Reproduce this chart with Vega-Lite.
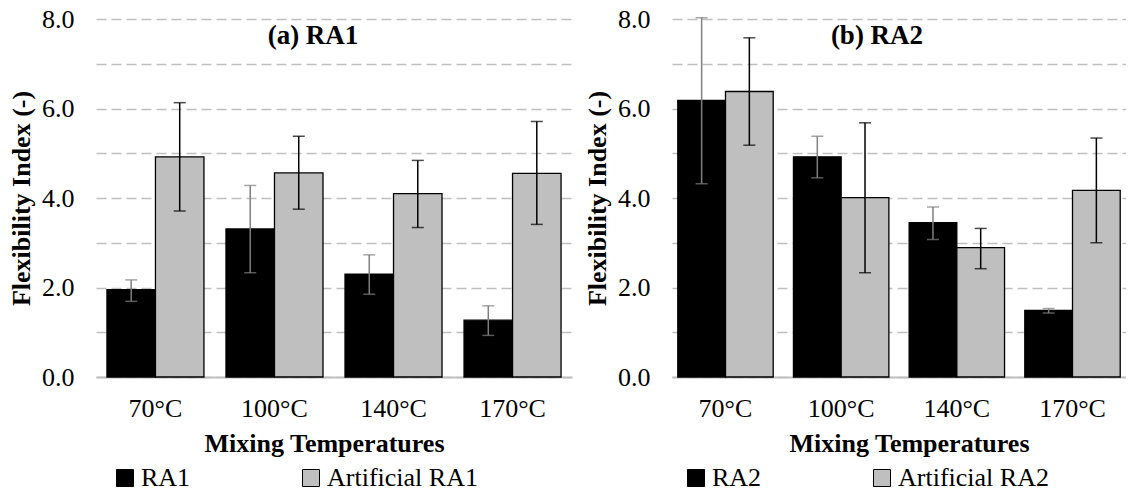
{
  "$schema": "https://vega.github.io/schema/vega-lite/v6.json",
  "background": "white",
  "padding": {"left": 8, "top": 6, "right": 0, "bottom": 0},
  "datasets": {
    "fi": [
      {"panel": "a", "temp": "70°C", "series": "RA1", "value": 1.95, "lo": 1.69, "hi": 2.17},
      {"panel": "a", "temp": "70°C", "series": "Artificial RA1", "value": 4.92, "lo": 3.71, "hi": 6.13},
      {"panel": "a", "temp": "100°C", "series": "RA1", "value": 3.31, "lo": 2.33, "hi": 4.28},
      {"panel": "a", "temp": "100°C", "series": "Artificial RA1", "value": 4.56, "lo": 3.75, "hi": 5.38},
      {"panel": "a", "temp": "140°C", "series": "RA1", "value": 2.30, "lo": 1.85, "hi": 2.73},
      {"panel": "a", "temp": "140°C", "series": "Artificial RA1", "value": 4.10, "lo": 3.34, "hi": 4.84},
      {"panel": "a", "temp": "170°C", "series": "RA1", "value": 1.27, "lo": 0.93, "hi": 1.59},
      {"panel": "a", "temp": "170°C", "series": "Artificial RA1", "value": 4.55, "lo": 3.41, "hi": 5.71},
      {"panel": "b", "temp": "70°C", "series": "RA2", "value": 6.18, "lo": 4.32, "hi": 8.03},
      {"panel": "b", "temp": "70°C", "series": "Artificial RA2", "value": 6.38, "lo": 5.18, "hi": 7.58},
      {"panel": "b", "temp": "100°C", "series": "RA2", "value": 4.92, "lo": 4.45, "hi": 5.38},
      {"panel": "b", "temp": "100°C", "series": "Artificial RA2", "value": 4.01, "lo": 2.33, "hi": 5.68},
      {"panel": "b", "temp": "140°C", "series": "RA2", "value": 3.45, "lo": 3.07, "hi": 3.80},
      {"panel": "b", "temp": "140°C", "series": "Artificial RA2", "value": 2.89, "lo": 2.42, "hi": 3.32},
      {"panel": "b", "temp": "170°C", "series": "RA2", "value": 1.49, "lo": 1.43, "hi": 1.53},
      {"panel": "b", "temp": "170°C", "series": "Artificial RA2", "value": 4.17, "lo": 3.00, "hi": 5.34}
    ]
  },
  "spacing": 12,
  "hconcat": [
    {
      "width": 476,
      "height": 358,
      "data": {"name": "fi"},
      "transform": [{"filter": "datum.panel === 'a'"}],
      "title": {"text": "(a) RA1", "offset": -44, "dx": -21},
      "encoding": {
        "x": {"field": "temp", "type": "nominal", "sort": ["70°C", "100°C", "140°C", "170°C"], "scale": {"paddingInner": 0.185, "paddingOuter": 0.092}, "axis": {"titleX": 228}, "title": "Mixing Temperatures"},
        "xOffset": {"field": "series", "type": "nominal", "sort": ["RA1", "Artificial RA1"], "scale": {"paddingInner": 0}}
      },
      "layer": [
        {
          "mark": {"type": "bar", "stroke": "black", "strokeWidth": 1.3},
          "encoding": {
            "y": {"field": "value", "type": "quantitative", "scale": {"domain": [0, 8]}, "title": "Flexibility Index (-)"},
            "color": {"field": "series", "type": "nominal", "scale": {"domain": ["RA1", "Artificial RA1"], "range": ["#000000", "#bfbfbf"]}, "legend": {"title": null, "orient": "none", "legendX": 16, "legendY": 446}}
          }
        },
        {
          "mark": {"type": "rule", "strokeWidth": 1.5},
          "encoding": {
            "y": {"field": "lo", "type": "quantitative"},
            "y2": {"field": "hi"},
            "color": {"condition": {"test": "datum.series === 'RA1'", "value": "#7f7f7f"}, "value": "#000000"}
          }
        },
        {
          "mark": {"type": "tick", "size": 12, "thickness": 1.5},
          "encoding": {
            "y": {"field": "lo", "type": "quantitative"},
            "color": {"condition": {"test": "datum.series === 'RA1'", "value": "#7f7f7f"}, "value": "#000000"}
          }
        },
        {
          "mark": {"type": "tick", "size": 12, "thickness": 1.5},
          "encoding": {
            "y": {"field": "hi", "type": "quantitative"},
            "color": {"condition": {"test": "datum.series === 'RA1'", "value": "#7f7f7f"}, "value": "#000000"}
          }
        }
      ]
    },
    {
      "width": 454,
      "height": 358,
      "data": {"name": "fi"},
      "transform": [{"filter": "datum.panel === 'b'"}],
      "title": {"text": "(b) RA2", "offset": -44, "dx": -22},
      "encoding": {
        "x": {"field": "temp", "type": "nominal", "sort": ["70°C", "100°C", "140°C", "170°C"], "scale": {"paddingInner": 0.175, "paddingOuter": 0.05}, "axis": {"titleX": 237}, "title": "Mixing Temperatures"},
        "xOffset": {"field": "series", "type": "nominal", "sort": ["RA2", "Artificial RA2"], "scale": {"paddingInner": 0}}
      },
      "layer": [
        {
          "mark": {"type": "bar", "stroke": "black", "strokeWidth": 1.3},
          "encoding": {
            "y": {"field": "value", "type": "quantitative", "scale": {"domain": [0, 8]}, "title": "Flexibility Index (-)"},
            "color": {"field": "series", "type": "nominal", "scale": {"domain": ["RA2", "Artificial RA2"], "range": ["#000000", "#bfbfbf"]}, "legend": {"title": null, "orient": "none", "legendX": 11, "legendY": 446}}
          }
        },
        {
          "mark": {"type": "rule", "strokeWidth": 1.5},
          "encoding": {
            "y": {"field": "lo", "type": "quantitative"},
            "y2": {"field": "hi"},
            "color": {"condition": {"test": "datum.series === 'RA2'", "value": "#7f7f7f"}, "value": "#000000"}
          }
        },
        {
          "mark": {"type": "tick", "size": 12, "thickness": 1.5},
          "encoding": {
            "y": {"field": "lo", "type": "quantitative"},
            "color": {"condition": {"test": "datum.series === 'RA2'", "value": "#7f7f7f"}, "value": "#000000"}
          }
        },
        {
          "mark": {"type": "tick", "size": 12, "thickness": 1.5},
          "encoding": {
            "y": {"field": "hi", "type": "quantitative"},
            "color": {"condition": {"test": "datum.series === 'RA2'", "value": "#7f7f7f"}, "value": "#000000"}
          }
        }
      ]
    }
  ],
  "resolve": {
    "scale": {"x": "independent", "xOffset": "independent", "y": "independent", "color": "independent"},
    "axis": {"x": "independent", "y": "independent"},
    "legend": {"color": "independent"}
  },
  "config": {
    "font": "Liberation Serif",
    "view": {"stroke": null},
    "title": {"font": "Liberation Serif", "fontSize": 27, "fontWeight": "bold", "color": "#000000", "anchor": "middle"},
    "axisX": {
      "labelFont": "Liberation Serif", "titleFont": "Liberation Serif",
      "labelAngle": 0, "labelFontSize": 26, "labelColor": "#000000", "labelPadding": 18,
      "ticks": false, "domain": true, "domainColor": "#bfbfbf", "domainWidth": 2,
      "titleFontSize": 26, "titleFontWeight": "bold", "titleColor": "#000000", "titlePadding": 9,
      "grid": false
    },
    "axisY": {
      "labelFont": "Liberation Serif", "titleFont": "Liberation Serif",
      "values": [0, 1, 2, 3, 4, 5, 6, 7, 8],
      "labelExpr": "datum.value % 2 === 0 ? format(datum.value, '.1f') : ''",
      "labelFontSize": 26, "labelColor": "#000000", "labelPadding": 22,
      "ticks": false, "domain": false,
      "grid": true, "gridColor": "#c0c0c0", "gridDash": [10, 5], "gridWidth": 1.5,
      "titleFontSize": 26, "titleFontWeight": "bold", "titleColor": "#000000", "titlePadding": 7
    },
    "legend": {
      "labelFont": "Liberation Serif",
      "direction": "horizontal",
      "symbolType": "square", "symbolSize": 289, "symbolStrokeColor": "#000000", "symbolStrokeWidth": 1,
      "labelFontSize": 26, "labelColor": "#000000", "labelOffset": 3,
      "columnPadding": 6, "gridAlign": "all", "padding": 0
    }
  }
}
